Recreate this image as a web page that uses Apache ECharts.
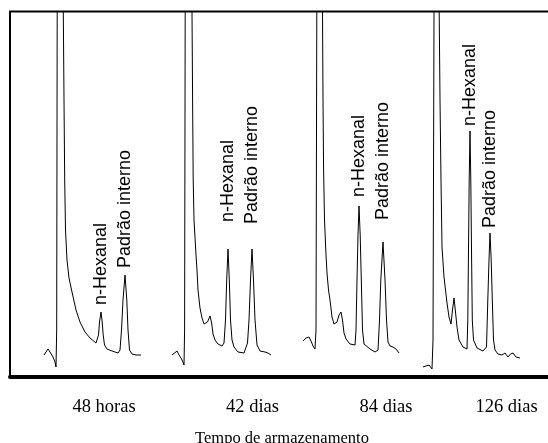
<!DOCTYPE html>
<html>
<head>
<meta charset="utf-8">
<script src="https://cdn.jsdelivr.net/npm/echarts@6/dist/echarts.min.js"></script>
<style>
  html, body { margin: 0; padding: 0; background: #fff; }
  #chart { width: 548px; height: 443px; }
</style>
</head>
<body>
<div id="chart"></div>
<script>
// Retention time (arbitrary units) vs detector signal (arbitrary units); values above the frame are off-scale.
var chrom48h = [
  [3.4,22],[3.6,25],[3.8,28],[4.0,25],[4.3,20],[4.5,15],[4.6,10],[4.67,47],[4.72,365],[4.75,420],[5.3,420],
  [5.33,365],[5.4,277],[5.47,197],[5.55,147],[5.7,117],[5.9,99],[6.2,85],[6.6,67],[7.0,55],[7.5,45],[8.0,39],[8.6,34],
  [8.7,33],[8.85,42],[8.95,55],[9.1,65],[9.22,55],[9.32,42],[9.45,32],[9.7,28],[10.2,26],[10.8,24],
  [11.0,27],[11.15,47],[11.3,77],[11.5,102],[11.68,77],[11.8,47],[11.95,27],[12.2,23],[12.6,22],[13.1,22]
];
var chrom42d = [
  [16.2,22],[16.4,24],[16.7,26],[16.9,22],[17.1,19],[17.3,15],[17.4,12],[17.46,47],[17.52,365],[17.55,420],[18.15,420],
  [18.2,365],[18.26,277],[18.32,197],[18.4,157],[18.6,122],[18.7,107],[18.8,87],[19.0,69],[19.2,59],[19.4,53],[19.55,51],
  [19.75,55],[20.0,61],[20.15,55],[20.3,43],[20.5,37],[20.8,33],[21.2,31],
  [21.4,34],[21.55,57],[21.67,97],[21.8,128],[21.93,97],[22.05,57],[22.2,37],[22.4,30],[22.8,25],[23.4,24],
  [23.75,34],[23.9,57],[24.05,97],[24.2,128],[24.35,97],[24.5,57],[24.7,32],[25.0,26],[25.5,25],[25.8,24],[26.1,22]
];
var chrom84d = [
  [29.3,36],[29.6,39],[29.9,40],[30.1,36],[30.3,31],[30.5,28],[30.6,47],[30.68,365],[30.72,420],[31.2,420],
  [31.25,365],[31.3,277],[31.36,207],[31.45,157],[31.6,122],[31.7,104],[31.85,87],[32.0,77],[32.2,60],[32.4,53],[32.5,51],
  [32.7,55],[32.9,62],[33.1,65],[33.25,57],[33.4,44],[33.6,38],[34.0,33],[34.5,32],
  [34.6,47],[34.7,97],[34.8,142],[34.9,171],[35.02,142],[35.13,97],[35.25,47],[35.4,33],[35.6,31],[36.0,28],[36.5,25],
  [36.8,27],[36.95,57],[37.08,97],[37.3,135],[37.5,97],[37.65,57],[37.8,35],[38.0,31],[38.3,30],[38.6,28],[38.9,24]
];
var chrom126d = [
  [41.3,10],[41.6,11],[41.9,12],[42.2,8],[42.3,37],[42.4,365],[42.45,420],[42.85,420],
  [42.92,365],[43.0,277],[43.1,197],[43.2,130],[43.4,100],[43.7,74],[43.9,60],[44.1,53],
  [44.25,67],[44.4,79],[44.55,65],[44.7,50],[44.9,37],[45.3,30],[45.7,28],
  [45.78,57],[45.85,127],[45.92,197],[46.0,246],[46.08,197],[46.15,127],[46.23,57],[46.35,37],[46.7,29],[47.3,26],
  [47.65,30],[47.78,77],[47.9,117],[48.0,144],[48.12,117],[48.23,77],[48.35,37],[48.5,27],[48.8,23],[49.2,22],
  [49.5,24],[49.8,20],[50.05,23],[50.3,24],[50.6,20],[51.0,19]
];

var peakNames = ['n-Hexanal', 'Padrão interno'];
var peakX = [[9.1, 11.5], [21.8, 24.2], [34.9, 37.3], [46.0, 48.0]];
var peakLabelGap = [[7, 7], [27, 25], [9, 22], [5, 5]];

var sampleLabels = ['48 horas', '42 dias', '84 dias', '126 dias'];
var sampleLabelX = [9.4, 24.25, 37.6, 49.65];
var axisTitle = 'Tempo de armazenamento';

var allChroms = [chrom48h, chrom42d, chrom84d, chrom126d];

function buildData(arr, si) {
  return arr.map(function (p) {
    var k = peakX[si].indexOf(p[0]);
    if (k >= 0) {
      return {
        value: p,
        label: { show: true, formatter: peakNames[k], distance: peakLabelGap[si][k] }
      };
    }
    return { value: p };
  });
}

var series = allChroms.map(function (arr, si) {
  return {
    type: 'line',
    data: buildData(arr, si),
    symbol: 'circle',
    symbolSize: 0,
    showSymbol: true,
    clip: true,
    silent: true,
    lineStyle: { color: '#000', width: 1 },
    itemStyle: { color: '#000' },
    label: {
      show: false,
      position: 'top',
      rotate: 90,
      align: 'left',
      verticalAlign: 'middle',
      fontFamily: 'Liberation Sans, Arial, sans-serif',
      fontSize: 18,
      color: '#000'
    },
    emphasis: { disabled: true }
  };
});

var chart = echarts.init(document.getElementById('chart'), null, { renderer: 'canvas' });
chart.setOption({
  animation: false,
  backgroundColor: '#fff',
  title: {
    text: axisTitle,
    left: 277,
    textAlign: 'center',
    top: 425,
    textStyle: { fontFamily: 'Liberation Serif, Times New Roman, serif', fontSize: 16.5, fontWeight: 'normal', color: '#000' }
  },
  grid: {
    left: 10, top: 11.5, width: 560, height: 365.5,
    outerBoundsMode: 'none',
    containLabel: false,
    show: true, borderColor: '#000', borderWidth: 2, backgroundColor: 'transparent'
  },
  xAxis: {
    type: 'value', min: 0, max: 56,
    axisLine: { show: true, lineStyle: { color: '#000', width: 4 } },
    axisTick: { show: false },
    splitLine: { show: false },
    axisLabel: {
      customValues: sampleLabelX,
      formatter: function (v) {
        var best = 0, d = Infinity;
        for (var i = 0; i < sampleLabelX.length; i++) {
          var dd = Math.abs(sampleLabelX[i] - v);
          if (dd < d) { d = dd; best = i; }
        }
        return sampleLabels[best];
      },
      fontFamily: 'Liberation Serif, Times New Roman, serif',
      fontSize: 18.5,
      color: '#000',
      margin: 21
    }
  },
  yAxis: {
    type: 'value', min: 0, max: 365.5,
    show: false,
    splitLine: { show: false }
  },
  series: series
});
</script>
</body>
</html>
